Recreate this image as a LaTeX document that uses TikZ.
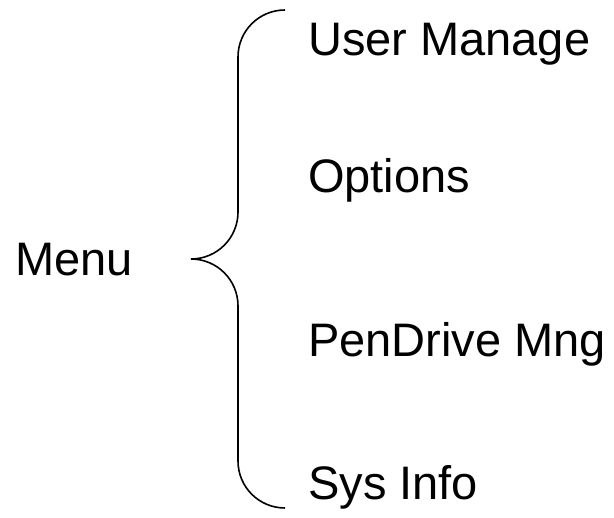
\documentclass[tikz,border=0pt]{standalone}
\usepackage{fontspec}
\setmainfont{Liberation Sans}
\begin{document}
\begin{tikzpicture}[x=1pt,y=-1pt,
  entry/.style={anchor=base west,inner sep=0pt,font=\fontsize{47}{50}\selectfont}]
\useasboundingbox (0,0) rectangle (614,518);
\node[entry] (menu) at (15,276) {Menu};
\node[entry] (user) at (308,56) {User Manage};
\node[entry] (opts) at (308,193) {Options};
\node[entry] (pen) at (308,357) {PenDrive Mng};
\node[entry] (sys) at (308,500) {Sys Info};
\draw[line width=1.6pt] (285,10) .. controls (259,10) and (238,31) .. (238,57)
  -- (238,212) .. controls (238,238) and (217,259) .. (191,259)
  .. controls (217,259) and (238,280) .. (238,306)
  -- (238,461) .. controls (238,487) and (259,508) .. (285,508);
\end{tikzpicture}
\end{document}
